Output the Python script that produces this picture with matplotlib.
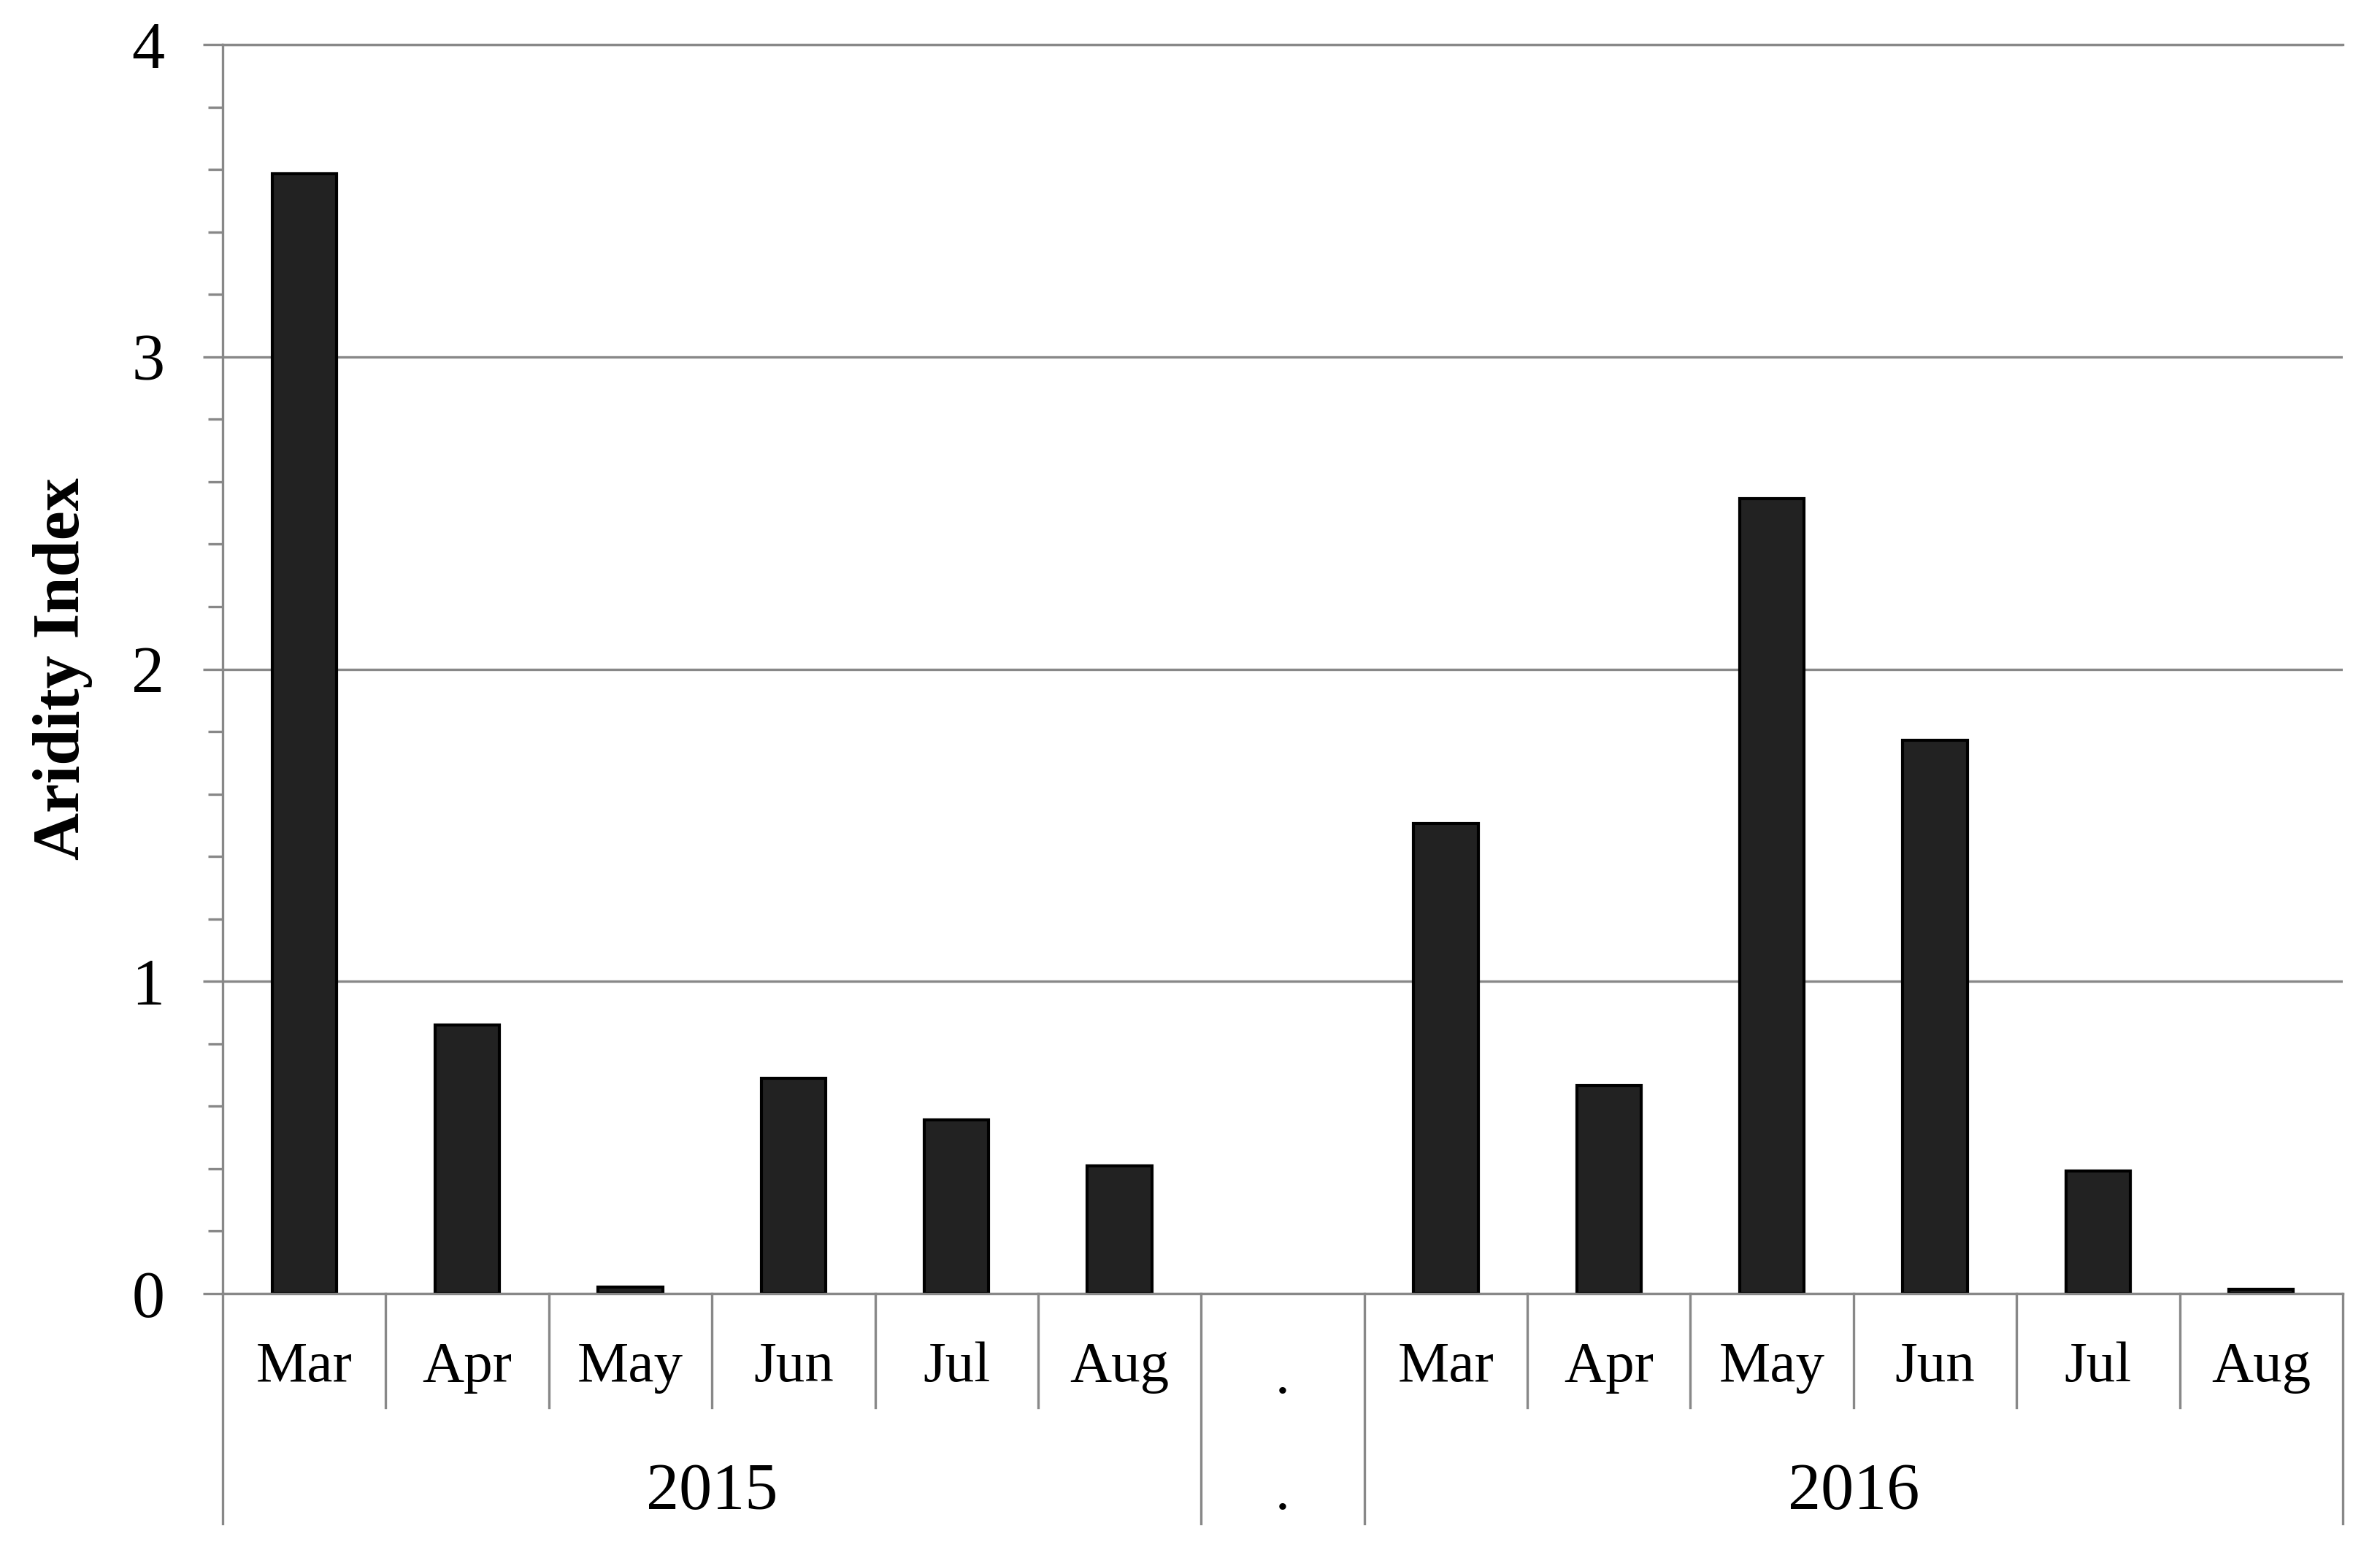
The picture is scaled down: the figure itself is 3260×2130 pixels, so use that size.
import matplotlib
matplotlib.use("Agg")
import matplotlib.pyplot as plt
from matplotlib.ticker import MultipleLocator

# ---- data ----
months = ["Mar", "Apr", "May", "Jun", "Jul", "Aug"]
years = ["2015", "2016"]
values_2015 = [3.586, 0.860, 0.022, 0.690, 0.557, 0.409]
values_2016 = [1.506, 0.667, 2.545, 1.771, 0.393, 0.014]
gap_label = "."
ylabel = "Aridity Index"
yticks = [0, 1, 2, 3, 4]

plt.rcParams["font.family"] = ["Liberation Serif", "DejaVu Serif"]

GRAY = "#888888"
fig = plt.figure(figsize=(32.6, 21.3), dpi=100)
ax = fig.add_axes([305 / 3260, 1 - 1772 / 2130, (3209 - 305) / 3260, (1772 - 61) / 2130])

n = len(months)
x2015 = list(range(n))
x2016 = [n + 1 + i for i in range(n)]
gap_x = n

bw = 0.395
ax.bar(x2015, values_2015, width=bw, color="#222222", edgecolor="black", linewidth=3, zorder=3)
ax.bar(x2016, values_2016, width=bw, color="#222222", edgecolor="black", linewidth=3, zorder=3)

ax.set_xlim(-0.5, 2 * n + 0.5)
ax.set_ylim(0, 4)
ax.set_yticks(yticks)
ax.set_yticklabels([str(t) for t in yticks])
ax.yaxis.set_minor_locator(MultipleLocator(0.2))
ax.tick_params(axis="y", which="major", length=19.4, width=2.4, color=GRAY, labelsize=65, pad=38)
ax.tick_params(axis="y", which="minor", length=14.4, width=2.4, color=GRAY)
ax.tick_params(axis="x", which="both", length=0, labelbottom=False)
ax.set_xticks([])
ax.yaxis.grid(True, which="major", color=GRAY, linewidth=2.4, zorder=0)
ax.set_axisbelow(True)

for side in ["right"]:
    ax.spines[side].set_visible(False)
for side in ["left", "bottom", "top"]:
    ax.spines[side].set_color(GRAY)
    ax.spines[side].set_linewidth(2.4)
    ax.spines[side].set_zorder(4)

# category separators below the axis
trans = ax.get_xaxis_transform()
month_bottom = -(1928 - 1772) / 1711
year_bottom = -(2087 - 1772) / 1711
month_seps = [x + 0.5 for x in x2015[:-1]] + [x + 0.5 for x in x2016[:-1]]
year_seps = [x2015[0] - 0.5, x2015[-1] + 0.5, x2016[0] - 0.5, x2016[-1] + 0.5]
for xs in month_seps:
    ax.plot([xs, xs], [0, month_bottom], transform=trans, color=GRAY, lw=2.4, clip_on=False)
for xs in year_seps:
    ax.plot([xs, xs], [0, year_bottom], transform=trans, color=GRAY, lw=2.4, clip_on=False)

# labels
month_base = -(1892 - 1772) / 1711
year_base = -(2067 - 1772) / 1711
for xs, m in zip(x2015, months):
    ax.text(xs, month_base, m, transform=trans, ha="center", va="baseline", fontsize=57)
for xs, m in zip(x2016, months):
    ax.text(xs, month_base, m, transform=trans, ha="center", va="baseline", fontsize=57)
ax.text(sum(x2015) / n, year_base, years[0], transform=trans, ha="center", va="baseline", fontsize=65)
ax.text(sum(x2016) / n, year_base, years[1], transform=trans, ha="center", va="baseline", fontsize=65)
ax.text(gap_x, -(1908 - 1772) / 1711, gap_label, transform=trans, ha="center", va="baseline", fontsize=57)
ax.text(gap_x, year_base, gap_label, transform=trans, ha="center", va="baseline", fontsize=57)

ax.text((86 - 305) / 2904, 0.5, ylabel, transform=ax.transAxes, rotation=90,
        ha="center", va="center", fontsize=65, fontweight="bold")

fig.savefig("out.png", dpi=100, facecolor="white")
